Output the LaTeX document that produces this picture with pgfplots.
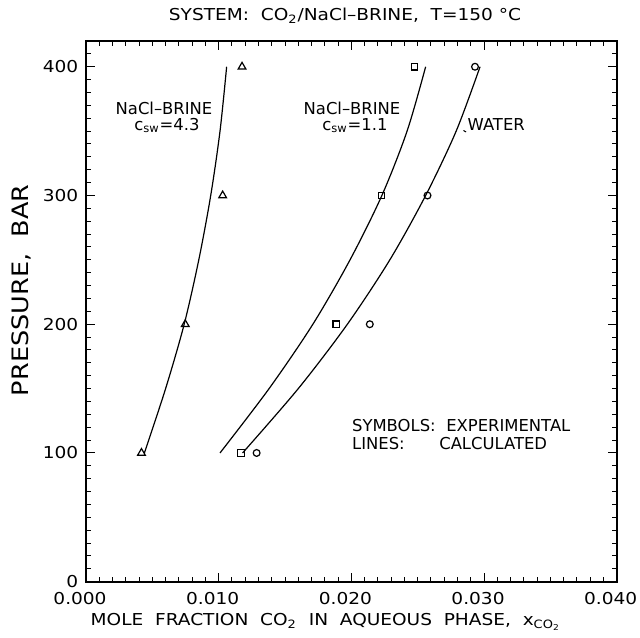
\documentclass[border=0pt]{standalone}
\usepackage{fontspec}
\setmainfont{DejaVu Sans}
\newfontfamily\wide{DejaVu Sans}[FakeStretch=1.13]
\usepackage{pgfplots}
\pgfplotsset{compat=1.18}

\pgfplotstableread{
x        p
0.00418  100
0.00748  200
0.0103   300
0.01176  400
}\brinefour
\pgfplotstableread{
x        p
0.01168  100
0.01886  200
0.02227  300
0.02477  400
}\brineone
\pgfplotstableread{
x        p
0.01286  100
0.02139  200
0.02574  300
0.02932  400
}\water

\newcommand{\fnt}{\fontsize{8.2}{9.8}\selectfont}
\newcommand{\wfnt}{\wide\fontsize{8.2}{9.8}\selectfont}

\begin{document}
\fnt
\begin{tikzpicture}
\begin{axis}[
  scale only axis,
  width=265.3pt, height=270.3pt,
  xmin=0, xmax=0.04, ymin=0, ymax=420,
  scaled x ticks=false,
  xtick={0,0.01,0.02,0.03,0.04},
  xticklabels={0.000,0.010,0.020,0.030,0.040},
  ytick={0,100,200,300,400},
  yticklabels={0,100,200,300,400},
  minor xtick={0.001,0.002,0.003,0.004,0.005,0.006,0.007,0.008,0.009,
    0.011,0.012,0.013,0.014,0.015,0.016,0.017,0.018,0.019,
    0.021,0.022,0.023,0.024,0.025,0.026,0.027,0.028,0.029,
    0.031,0.032,0.033,0.034,0.035,0.036,0.037,0.038,0.039},
  minor ytick={0,10,...,420},
  major tick length=4.5pt, minor tick length=2.5pt,
  tick style={black, line width=0.5pt},
  axis line style={line width=0.9pt},
  xticklabel style={font=\wfnt, xshift=-3pt, yshift=-2.5pt},
  yticklabel style={font=\wfnt, xshift=-1pt},
  clip=false,
  every node/.append style={font=\fnt},
]
\coordinate (sw) at (rel axis cs:0,0);
\coordinate (ne) at (rel axis cs:1,1);

% calculated lines
\addplot[black, line width=0.6pt, smooth] coordinates {
 (0.0044,100) (0.0060,150) (0.0074,200) (0.0085,250) (0.0094,300) (0.0101,350) (0.0106,400)};
\addplot[black, line width=0.6pt, smooth] coordinates {
 (0.0101,100) (0.0138,150) (0.0171,200) (0.0199,250) (0.0223,300) (0.0242,350) (0.0256,400)};
\addplot[black, line width=0.6pt, smooth] coordinates {
 (0.0118,100) (0.0160,150) (0.0197,200) (0.0229,250) (0.0256,300) (0.0279,350) (0.0297,400)};

% experimental points
\addplot[only marks, mark=triangle, mark size=2.2pt, mark options={black, line width=0.6pt}] table[x=x,y=p] {\brinefour};
\addplot[only marks, mark=square, mark size=1.6pt, mark options={black, line width=0.6pt}] table[x=x,y=p] {\brineone};
\addplot[only marks, mark=o, mark size=1.7pt, mark options={black, line width=0.6pt}] table[x=x,y=p] {\water};

% annotations
\node at (axis cs:0.00588,367.9) {NaCl–BRINE};
\node at (axis cs:0.0061,354.5) {c\textsubscript{sw}=4.3};
\node at (axis cs:0.02005,367.9) {NaCl–BRINE};
\node at (axis cs:0.02027,354.5) {c\textsubscript{sw}=1.1};
\node at (axis cs:0.03092,354.9) {WATER};
\draw[line width=0.5pt] (axis cs:0.02845,350.5) -- (axis cs:0.02865,349.3);
\node[anchor=west, inner sep=0pt] at (axis cs:0.02003,121.6) {SYMBOLS:};
\node[anchor=west, inner sep=0pt] at (axis cs:0.02713,121.6) {EXPERIMENTAL};
\node[anchor=west, inner sep=0pt] at (axis cs:0.02003,107.4) {LINES:};
\node[anchor=west, inner sep=0pt] at (axis cs:0.02660,107.4) {CALCULATED};

% title and axis labels
\node[font=\wfnt] at (axis cs:0.01952,439.6) {SYSTEM:\ \ CO\textsubscript{2}/NaCl–BRINE,\ \ T=150 °C};
\node[font=\wfnt] at (axis cs:0.01807,-31) {MOLE\ \ FRACTION\ \ CO\textsubscript{2}\ \ IN\ \ AQUEOUS\ \ PHASE,\ \ x\textsubscript{CO\textsubscript{2}}};
\node[rotate=90, font=\wide\fontsize{11.3}{13}\selectfont] at (axis cs:-0.00485,226.3) {PRESSURE,\ \ BAR};
\end{axis}
\pgfresetboundingbox
\path[use as bounding box] ([shift={(-43pt,-27.65pt)}]sw) rectangle ([shift={(11.65pt,20.5pt)}]ne);
\end{tikzpicture}
\end{document}
